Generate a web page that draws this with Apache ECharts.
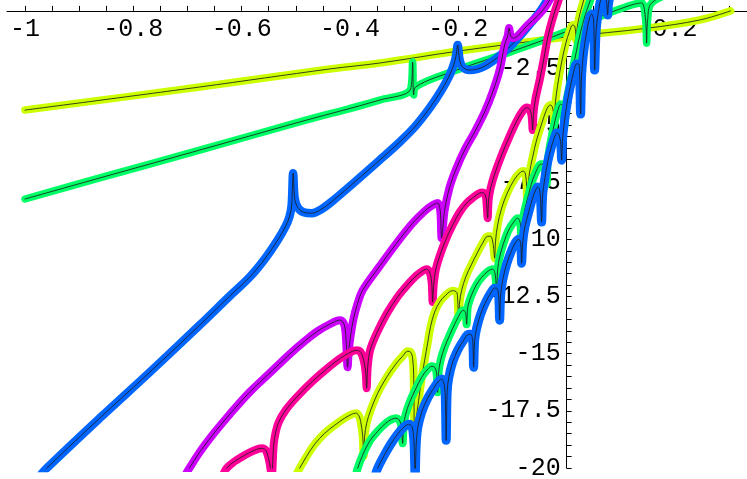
<!DOCTYPE html>
<html>
<head>
<meta charset="utf-8">
<script src="https://cdn.jsdelivr.net/npm/echarts@6/dist/echarts.min.js"></script>
<style>
html,body{margin:0;padding:0;background:#fff;}
#chart{width:747px;height:479px;}
</style>
</head>
<body>
<div id="chart"></div>
<script>
// ---- tick labels ----
const xLabelValues = [-1, -0.8, -0.6, -0.4, -0.2, 0.2];
const yLabelValues = [-2.5, -5, -7.5, -10, -12.5, -15, -17.5, -20];

// ---- curves: [x, y] pairs ----
const yellow1 = [[-1.0,-4.34],[-0.6775,-3.33],[-0.4375,-2.54],[-0.345,-2.28],[-0.199,-1.755],[0,-1.14],[0.1514,-0.75],[0.2455,-0.40],[0.3027,0.0]];

const green1 = [[-1,-8.23],[-0.862,-7.31],[-0.6775,-6.09],[-0.493,-4.86],[-0.345,-3.90],[-0.288,-3.42],[-0.2843,-2.24],[-0.2824,-3.68],[-0.2788,-3.33],[-0.203,-2.59],[-0.0997,-1.76],[0.0018,-0.88],[0.0554,-0.31],[0.0978,0.08],[0.1255,0.30],[0.1385,0.35],[0.1458,-0.40],[0.1477,-1.41],[0.1495,-0.40],[0.157,0.35],[0.2086,0.92],[0.301,1.8]];

const blue1 = [[-0.9729,-20.36],[-0.96,-20.01],[-0.8621,-17.82],[-0.7698,-15.81],[-0.6775,-13.75],[-0.6221,-12.48],[-0.5852,-11.65],[-0.5575,-10.86],[-0.5335,-10.03],[-0.5187,-9.42],[-0.5114,-8.98],[-0.5077,-8.5],[-0.5049,-7.1],[-0.5021,-8.19],[-0.4966,-8.59],[-0.4855,-8.81],[-0.4707,-8.85],[-0.4523,-8.67],[-0.4283,-8.24],[-0.3914,-7.49],[-0.3452,-6.53],[-0.3083,-5.74],[-0.2806,-5.08],[-0.2529,-4.25],[-0.2308,-3.46],[-0.216,-2.81],[-0.2068,-2.24],[-0.2031,-1.8],[-0.2012,-1.49],[-0.1975,-2.15],[-0.192,-2.46],[-0.1791,-2.59],[-0.1643,-2.54],[-0.1477,-2.37],[-0.1237,-1.97],[-0.1015,-1.49],[-0.0831,-1.01],[-0.0646,-0.49],[-0.0498,-0.05],[-0.0388,0.35],[-0.0277,0.83]];

const purple1 = [[-0.7033,-20.28],[-0.6965,-20.01],[-0.6775,-19.31],[-0.6498,-18.44],[-0.6221,-17.65],[-0.5852,-16.68],[-0.5483,-15.85],[-0.5114,-15.02],[-0.4837,-14.45],[-0.4597,-14.01],[-0.4375,-13.71],[-0.419,-13.53],[-0.4117,-13.66],[-0.408,-14.1],[-0.4043,-15.59],
  [-0.4024,-14.93],[-0.3987,-14.19],[-0.3932,-13.44],[-0.3858,-12.79],[-0.3766,-12.22],[-0.3452,-11.17],[-0.3138,-10.16],[-0.2843,-9.29],[-0.2621,-8.76],[-0.2474,-8.5],[-0.2381,-8.41],[-0.2344,-8.59],[-0.2326,-8.94],[-0.2308,-9.94],
  [-0.2252,-8.72],[-0.216,-7.71],[-0.2049,-6.97],[-0.1883,-6.09],[-0.1698,-5.3],[-0.1514,-4.43],[-0.1366,-3.55],[-0.1237,-2.59],[-0.1145,-1.49],[-0.1089,-1.1],[-0.1061,-0.75],[-0.1034,-1.1],[-0.0978,-1.19],[-0.0905,-1.1],[-0.072,-0.62],[-0.0535,-0.22],[-0.0406,0.13],[-0.0314,0.48],[-0.0222,0.92]];

const magenta1 = [[-0.6369,-20.45],[-0.6277,-20.01],[-0.6129,-19.71],[-0.5944,-19.44],[-0.576,-19.22],[-0.563,-19.14],[-0.5556,-19.22],[-0.5519,-19.44],[-0.5483,-19.79],[-0.5446,-20.36],
  [-0.5409,-19.0],[-0.5372,-18.44],[-0.5317,-18.0],[-0.5187,-17.47],[-0.4984,-16.9],[-0.4689,-16.2],[-0.4412,-15.63],[-0.4172,-15.19],[-0.3987,-14.93],[-0.3877,-14.85],[-0.3803,-14.93],[-0.3747,-15.28],[-0.371,-15.81],[-0.3692,-16.51],
  [-0.3674,-15.63],[-0.3637,-14.93],[-0.3563,-14.41],[-0.3452,-13.84],[-0.3304,-13.18],[-0.3138,-12.57],[-0.299,-12.13],[-0.2843,-11.74],[-0.2714,-11.47],[-0.2585,-11.3],[-0.2529,-11.43],[-0.2492,-11.87],[-0.2474,-12.74],
  [-0.2455,-12.0],[-0.2418,-11.34],[-0.2344,-10.73],[-0.2234,-10.03],[-0.2105,-9.37],[-0.1975,-8.81],[-0.1846,-8.41],[-0.1717,-8.15],[-0.1606,-7.97],[-0.1551,-7.95],[-0.1495,-8.1],[-0.1477,-8.45],[-0.1458,-9.07],
  [-0.144,-8.28],[-0.1403,-7.75],[-0.1329,-7.14],[-0.12,-6.31],[-0.1052,-5.48],[-0.0923,-4.82],[-0.0812,-4.38],[-0.0738,-4.23],[-0.0683,-4.3],[-0.0646,-4.6],[-0.0628,-5.21],
  [-0.0609,-4.43],[-0.0572,-3.81],[-0.0498,-3.03],[-0.0425,-2.15],[-0.0351,-1.19],[-0.0277,-0.49],[-0.0203,0.08],[-0.0148,0.48],[-0.0092,0.92]];

const yellow2 = [[-0.5003,-20.36],[-0.4929,-20.01],[-0.48,-19.49],[-0.4652,-18.96],[-0.4467,-18.48],[-0.4283,-18.13],[-0.4098,-17.82],[-0.3969,-17.65],[-0.3895,-17.6],[-0.384,-17.69],[-0.3803,-17.96],[-0.3766,-18.57],[-0.3747,-19.49],
  [-0.3729,-18.61],[-0.3692,-18.04],[-0.3618,-17.47],[-0.3489,-16.73],[-0.3323,-16.03],[-0.3157,-15.46],[-0.3028,-15.11],[-0.2935,-14.89],[-0.288,-14.93],[-0.2843,-15.2],[-0.2824,-15.94],[-0.2806,-19.44],
  [-0.2788,-18.13],[-0.2732,-17.04],[-0.2677,-16.07],[-0.2621,-15.28],[-0.2566,-14.54],[-0.2511,-13.8],[-0.2437,-13.18],[-0.2344,-12.74],[-0.2234,-12.44],[-0.2105,-12.24],[-0.2031,-12.31],[-0.2012,-12.61],[-0.1994,-13.44],
  [-0.1975,-12.74],[-0.1938,-12.22],[-0.1864,-11.65],[-0.1754,-11.08],[-0.1643,-10.56],[-0.1551,-10.16],[-0.1458,-9.86],[-0.1403,-9.86],[-0.1366,-10.07],[-0.1348,-10.38],[-0.1329,-10.82],
  [-0.1311,-10.03],[-0.1274,-9.37],[-0.12,-8.63],[-0.1089,-7.93],[-0.096,-7.36],[-0.0849,-7.05],[-0.0794,-7.01],[-0.0757,-7.18],[-0.0738,-7.67],[-0.0729,-8.5],
  [-0.0711,-7.62],[-0.0683,-7.05],[-0.0628,-6.4],[-0.0554,-5.65],[-0.0462,-4.95],[-0.0388,-4.42],[-0.0332,-4.16],[-0.0295,-4.12],[-0.0258,-4.25],[-0.024,-4.56],[-0.0231,-4.99],
  [-0.0212,-4.12],[-0.0166,-3.25],[-0.0092,-2.24],[-0.0018,-1.45],[0.0055,-0.88],[0.0111,-0.62],[0.0148,-0.66],[0.0166,-0.92],[0.0175,-1.27],[0.0194,-0.75],[0.024,-0.18],[0.0295,0.3],[0.0351,0.74],[0.0425,1.13]];

const green2 = [[-0.3895,-20.36],[-0.3858,-20.01],[-0.3766,-19.44],[-0.3637,-18.83],[-0.3489,-18.39],[-0.3341,-18.04],[-0.3231,-17.87],[-0.3157,-17.82],[-0.3101,-17.87],[-0.3064,-18.04],[-0.3046,-18.35],[-0.3028,-18.92],
  [-0.3009,-18.13],[-0.2972,-17.65],[-0.2898,-17.12],[-0.2788,-16.55],[-0.2677,-16.03],[-0.2566,-15.68],[-0.2492,-15.55],[-0.2437,-15.59],[-0.24,-15.85],[-0.2381,-16.69],
  [-0.2363,-15.81],[-0.2326,-15.28],[-0.2252,-14.71],[-0.216,-14.19],[-0.2068,-13.71],[-0.1994,-13.36],[-0.1938,-13.14],[-0.1901,-13.1],[-0.1864,-13.23],[-0.1846,-13.71],
  [-0.1828,-13.01],[-0.1791,-12.66],[-0.1717,-12.22],[-0.1625,-11.83],[-0.1514,-11.52],[-0.1421,-11.34],[-0.1366,-11.3],[-0.1329,-11.43],[-0.1311,-11.69],[-0.1292,-12.22],
  [-0.1274,-11.34],[-0.1237,-10.77],[-0.1163,-10.16],[-0.1071,-9.59],[-0.0978,-9.24],[-0.0905,-9.07],[-0.0868,-9.16],[-0.0849,-9.46],[-0.0831,-10.16],
  [-0.0812,-9.24],[-0.0775,-8.72],[-0.0701,-8.02],[-0.0628,-7.4],[-0.0554,-6.97],[-0.048,-6.71],[-0.0443,-6.71],[-0.0406,-6.88],[-0.0388,-7.14],[-0.0369,-7.58],
  [-0.0351,-6.62],[-0.0314,-6.0],[-0.0258,-5.3],[-0.0203,-4.69],[-0.0148,-4.25],[-0.0111,-4.08],[-0.0074,-4.16],[-0.0055,-4.47],[-0.0037,-4.99],
  [-0.0018,-4.16],[0.0037,-3.46],[0.0111,-2.59],[0.0185,-1.71],[0.0258,-0.92],[0.0332,-0.27],[0.0406,0.26],[0.048,0.74],[0.0554,1.13]];

const blue2 = [[-0.3544,-20.41],[-0.3489,-20.01],[-0.3378,-19.49],[-0.3249,-18.96],[-0.312,-18.52],[-0.3009,-18.22],[-0.2917,-18.09],[-0.2861,-18.17],[-0.2834,-18.44],[-0.2815,-19.0],[-0.2797,-20.36],
  [-0.2778,-19.0],[-0.2751,-18.26],[-0.2677,-17.56],[-0.2566,-16.95],[-0.2455,-16.51],[-0.2363,-16.2],[-0.2308,-16.11],[-0.2271,-16.25],[-0.2243,-16.69],[-0.2224,-18.79],
  [-0.2206,-16.69],[-0.2178,-16.07],[-0.2105,-15.37],[-0.2012,-14.85],[-0.1901,-14.41],[-0.1809,-14.15],[-0.1772,-14.15],[-0.1735,-14.41],[-0.1717,-15.59],
  [-0.1698,-14.41],[-0.1661,-13.88],[-0.1588,-13.27],[-0.1495,-12.74],[-0.1403,-12.35],[-0.1329,-12.13],[-0.1292,-12.13],[-0.1255,-12.44],[-0.1237,-13.53],
  [-0.1218,-12.44],[-0.1181,-11.78],[-0.1108,-11.08],[-0.1015,-10.47],[-0.0941,-10.12],[-0.0886,-9.99],[-0.0849,-10.16],[-0.0831,-11.04],
  [-0.0812,-10.16],[-0.0775,-9.5],[-0.0701,-8.81],[-0.0628,-8.19],[-0.0572,-7.84],[-0.0535,-7.71],[-0.0498,-7.84],[-0.048,-8.28],[-0.0462,-9.24],
  [-0.0443,-8.06],[-0.0406,-7.4],[-0.0351,-6.62],[-0.0277,-5.91],[-0.0222,-5.52],[-0.0185,-5.34],[-0.0148,-5.39],[-0.0111,-5.74],[-0.0092,-6.53],
  [-0.0074,-5.57],[-0.0037,-4.78],[0.0018,-3.9],[0.0074,-3.24],[0.0129,-2.68],[0.0185,-2.32],[0.0222,-2.32],[0.024,-2.68],[0.0258,-4.51],
  [0.0277,-2.81],[0.0314,-1.8],[0.0369,-0.92],[0.0425,-0.31],[0.0462,-0.14],[0.0498,-0.4],[0.0517,-2.59],[0.0545,-0.84],[0.0591,0.04],[0.0646,0.61],[0.0701,0.74],[0.0738,0.35],[0.0757,-0.18],[0.0775,0.35],[0.0831,0.83],[0.0978,1.35]];

// ---- styling ----
const YELLOW = '#ccff00', GREEN = '#00ff66', BLUE = '#0066ff', PURPLE = '#cc00ff', MAGENTA = '#ff0099';
const curves = [
  {name: 'c1', data: yellow1, color: YELLOW, width: 7.5},
  {name: 'c2', data: green1, color: GREEN, width: 7.5},
  {name: 'c3', data: blue1, color: BLUE, width: 8.5},
  {name: 'c4', data: purple1, color: PURPLE, width: 8},
  {name: 'c5', data: magenta1, color: MAGENTA, width: 8},
  {name: 'c6', data: yellow2, color: YELLOW, width: 8},
  {name: 'c7', data: green2, color: GREEN, width: 8},
  {name: 'c8', data: blue2, color: BLUE, width: 9}
];

const series = [];
curves.forEach(c => {
  series.push({
    type: 'line', name: c.name, data: c.data, showSymbol: false, smooth: 0.35,
    lineStyle: {color: c.color, width: c.width, cap: 'round', join: 'round'},
    clip: true, silent: true
  });
  series.push({
    type: 'line', name: c.name + 'k', data: c.data, showSymbol: false, smooth: 0.35,
    lineStyle: {color: '#1e1e1e', width: 1, opacity: 0.85, cap: 'round', join: 'round'},
    clip: true, silent: true
  });
});

const xTicks = [];
for (let i = -20; i <= 6; i++) xTicks.push(+(i * 0.05).toFixed(2));
const yTicks = [];
for (let i = -40; i <= 0; i++) yTicks.push(i * 0.5);

const GRID_LEFT = 7, GRID_BOTTOM = 11, W = 747, H = 479;
const X_MIN = -1.0332, X_MAX = 0.333, Y_MIN = -20, Y_MAX = 0.477;
// axis crossing offsets (where value 0 falls inside the grid)
const xZeroOffset = (0 - X_MIN) / (X_MAX - X_MIN) * (W - GRID_LEFT);
const yZeroOffset = (Y_MAX - 0) / (Y_MAX - Y_MIN) * (H - GRID_BOTTOM);

const FONT = 'Liberation Mono';

const chart = echarts.init(document.getElementById('chart'), null, {renderer: 'canvas'});
chart.setOption({
  animation: false,
  backgroundColor: '#fff',
  textStyle: {fontFamily: FONT, fontSize: 25},
  grid: {left: GRID_LEFT, right: 0, top: 0, bottom: GRID_BOTTOM, containLabel: false, outerBoundsMode: 'none'},
  xAxis: {
    type: 'value', min: X_MIN, max: X_MAX, position: 'top', offset: -yZeroOffset,
    axisLine: {show: true, onZero: false, lineStyle: {color: '#000', width: 1}},
    axisTick: {show: true, inside: false, length: 5, customValues: xTicks, lineStyle: {color: '#000'}},
    axisLabel: {show: true, inside: true, margin: 6, customValues: xLabelValues,
      formatter: v => String(v), fontFamily: FONT, fontSize: 25, color: '#000'},
    splitLine: {show: false}
  },
  yAxis: {
    type: 'value', min: Y_MIN, max: Y_MAX, position: 'left', offset: -xZeroOffset,
    axisLine: {show: true, onZero: false, lineStyle: {color: '#000', width: 1}},
    axisTick: {show: true, inside: true, length: 5, customValues: yTicks, lineStyle: {color: '#000'}},
    axisLabel: {show: true, inside: false, margin: 6, customValues: yLabelValues,
      formatter: v => String(v), fontFamily: FONT, fontSize: 25, color: '#000'},
    splitLine: {show: false}
  },
  series: series
});
</script>
</body>
</html>
